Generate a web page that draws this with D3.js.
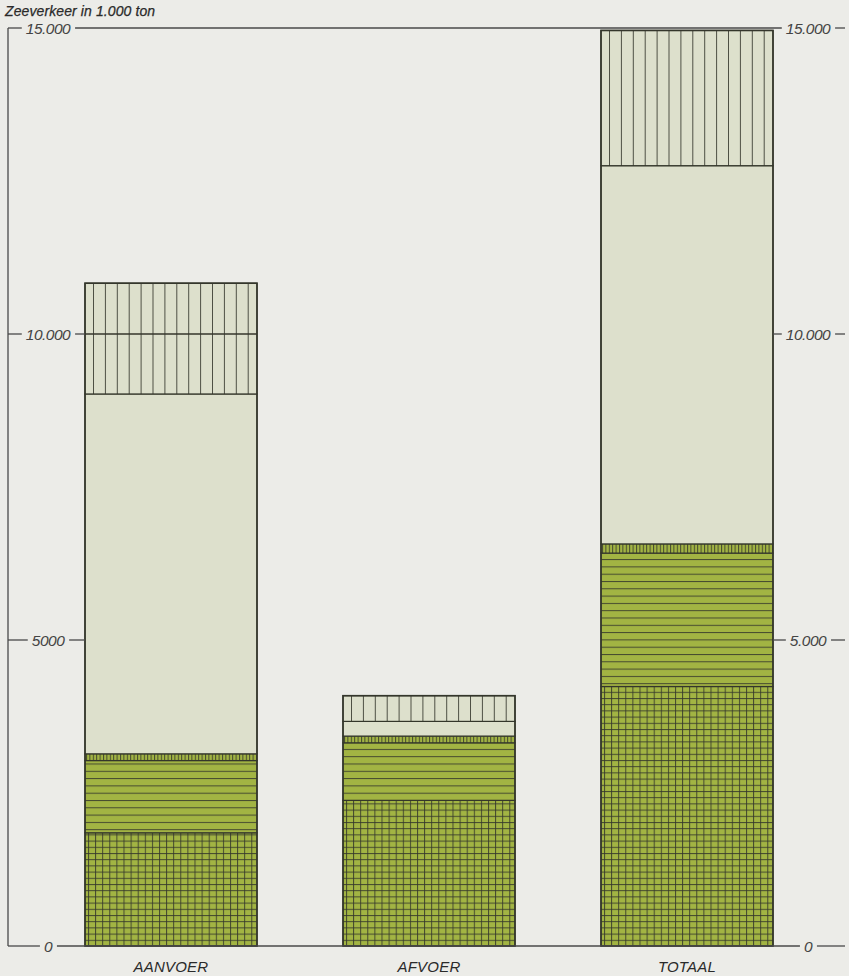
<!DOCTYPE html>
<html><head><meta charset="utf-8">
<script src="https://cdn.jsdelivr.net/npm/d3@7"></script>
<style>body{margin:0;background:#ecece8;} svg{display:block}</style>
</head><body><svg id="c" width="849" height="976"></svg>
<script>
// ---- data (in 1000 ton units ×1000) ----
const categories = ["AANVOER", "AFVOER", "TOTAAL"];
const segmentKeys = ["grid", "horizontal", "band", "plain", "vertical"];
const gridValues       = [1850, 2380, 4240];
const horizontalValues = [1180,  940, 2180];
const bandValues       = [ 110,  110,  150];
const plainValues      = [5880,  240, 6180];
const verticalValues   = [1810,  420, 2210];
const tickValues = [0, 5000, 10000, 15000];
const leftTickLabels  = ["0", "5000", "10.000", "15.000"];
const rightTickLabels = ["0", "5.000", "10.000", "15.000"];
const yTitle = "Zeeverkeer in 1.000 ton";

// ---- styles ----
const GREEN = "#a2b443", LIGHT = "#dde0cc", INK = "#34362b", TXT = "#444";
const FONT = "'Liberation Sans', Arial, sans-serif";

const rows = categories.map((c, i) => ({
  cat: c, grid: gridValues[i], horizontal: horizontalValues[i], band: bandValues[i],
  plain: plainValues[i], vertical: verticalValues[i]
}));
const series = d3.stack().keys(segmentKeys)(rows);

const svg = d3.select("#c");
const y = d3.scaleLinear().domain([0, 15000]).range([946, 28]);
const x = d3.scaleBand().domain(categories).range([42, 816]).paddingInner(1/3).paddingOuter(1/6);
const AX_L = 8, AX_R = 845;

// ---- patterns, anchored to each bar ----
const defs = svg.append("defs");
const patDefs = {
  grid:       {w: 7.1, h: 6.2, fill: GREEN, v: true, hz: true, ox: 3},
  horizontal: {w: 20, h: 7.3, fill: GREEN, v: false, hz: true, ox: 0},
  band:       {w: 3.4, h: 20, fill: GREEN, v: true, hz: false, ox: 1},
  vertical:   {w: 11.9, h: 20, fill: LIGHT, v: true, hz: false, ox: 8}
};
categories.forEach((c, ci) => {
  Object.entries(patDefs).forEach(([k, p]) => {
    const pat = defs.append("pattern").attr("id", `p-${k}-${ci}`)
      .attr("patternUnits", "userSpaceOnUse").attr("width", p.w).attr("height", p.h)
      .attr("x", x(c) + p.ox).attr("y", y(0));
    pat.append("rect").attr("width", p.w).attr("height", p.h).attr("fill", p.fill);
    if (p.v) pat.append("line").attr("x1", 0.5).attr("x2", 0.5).attr("y1", 0).attr("y2", p.h)
      .attr("stroke", INK).attr("stroke-width", 1).attr("stroke-opacity", 0.85);
    if (p.hz) pat.append("line").attr("x1", 0).attr("x2", p.w).attr("y1", 0.5).attr("y2", 0.5)
      .attr("stroke", INK).attr("stroke-width", 1).attr("stroke-opacity", 0.85);
  });
});
function fillFor(key, ci) { return key === "plain" ? LIGHT : `url(#p-${key}-${ci})`; }

// ---- bars ----
const gBars = svg.append("g");
series.forEach(s => {
  gBars.selectAll(null).data(s).join("rect")
    .attr("x", d => x(d.data.cat))
    .attr("width", x.bandwidth())
    .attr("y", d => y(d[1]))
    .attr("height", d => y(d[0]) - y(d[1]))
    .attr("fill", d => fillFor(s.key, categories.indexOf(d.data.cat)))
    .attr("stroke", INK).attr("stroke-width", 1.2);
});
gBars.selectAll(null).data(rows).join("rect")
  .attr("x", d => x(d.cat)).attr("width", x.bandwidth())
  .attr("y", d => y(segmentKeys.reduce((a, k) => a + d[k], 0)))
  .attr("height", d => y(0) - y(segmentKeys.reduce((a, k) => a + d[k], 0)))
  .attr("fill", "none").attr("stroke", INK).attr("stroke-width", 1.6);

// ---- axes ----
function styleAxis(g) {
  g.select(".domain").remove();
  g.selectAll("text").attr("text-anchor", "middle").attr("x", 0).attr("dy", "0.35em")
    .attr("font-family", FONT).attr("font-style", "italic").attr("font-size", 15.5)
    .attr("letter-spacing", -0.5).attr("fill", TXT);
}
const gL = svg.append("g").attr("transform", "translate(48,0)")
  .call(d3.axisLeft(y).tickValues(tickValues).tickFormat((d, i) => leftTickLabels[i]).tickSize(0).tickPadding(0))
  .call(styleAxis);
const gR = svg.append("g").attr("transform", "translate(808,0)")
  .call(d3.axisRight(y).tickValues(tickValues).tickFormat((d, i) => rightTickLabels[i]).tickSize(0).tickPadding(0))
  .call(styleAxis);

function labelExtent(g, v) {
  let ext = null;
  g.selectAll(".tick").each(function(d) {
    if (d === v) {
      const b = this.querySelector("text").getBBox();
      const tx = this.parentNode.transform.baseVal[0].matrix.e;
      ext = [tx + b.x - 4, tx + b.x + b.width + 4];
    }
  });
  return ext;
}
const gLines = svg.append("g").attr("stroke", "#4a4a4a").attr("stroke-width", 1.3).attr("fill", "none");
const barL = x(categories[0]), barR = x(categories[2]) + x.bandwidth();
tickValues.forEach(v => {
  const le = labelExtent(gL, v), re = labelExtent(gR, v);
  const yy = y(v);
  const full = (v === 0 || v === 15000);
  const segs = full
    ? [[AX_L, le[0]], [le[1], re[0]], [re[1], AX_R]]
    : [[AX_L, le[0]], [le[1], barL], [barR, re[0]], [re[1], AX_R]];
  segs.forEach(([a, b]) => gLines.append("line").attr("x1", a).attr("x2", b).attr("y1", yy).attr("y2", yy));
});
gLines.append("line").attr("x1", barL).attr("x2", x(categories[0]) + x.bandwidth())
  .attr("y1", y(10000)).attr("y2", y(10000)).attr("stroke", INK);
gLines.append("line").attr("x1", AX_L).attr("x2", AX_L).attr("y1", y(15000)).attr("y2", y(0));

// ---- titles ----
svg.append("text").attr("x", 5).attr("y", 16).text(yTitle)
  .attr("font-family", FONT).attr("font-style", "italic").attr("font-size", 14)
  .attr("letter-spacing", 0.1).attr("fill", "#2a2a2a").attr("stroke", "#2a2a2a").attr("stroke-width", 0.25);

svg.append("g").selectAll("text").data(categories).join("text")
  .attr("x", d => x(d) + x.bandwidth() / 2).attr("y", 972)
  .attr("text-anchor", "middle").text(d => d)
  .attr("font-family", FONT).attr("font-style", "italic").attr("font-size", 15)
  .attr("letter-spacing", 0.2).attr("fill", "#2a2a2a");
</script></body></html>
